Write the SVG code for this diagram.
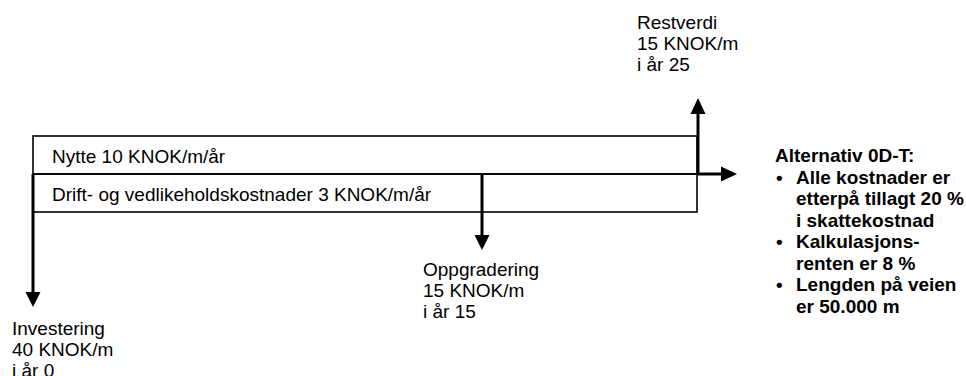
<svg xmlns="http://www.w3.org/2000/svg" width="966" height="376" viewBox="0 0 966 376">
<style>
  text { font-family: "Liberation Sans", Arial, sans-serif; font-size: 19px; fill: #000; }
  .b { font-weight: bold; }
  .box { fill: none; stroke: #000; stroke-width: 1.6; }
  .arr { stroke: #000; stroke-width: 3; fill: none; }
  .head { fill: #000; stroke: none; }
</style>
<rect width="966" height="376" fill="#fff"/>
<g id="nytte">
  <rect class="box" x="33" y="136" width="664" height="38"/>
  <text x="52" y="163">Nytte 10 KNOK/m/år</text>
</g>
<g id="drift">
  <rect class="box" x="33" y="174" width="664" height="38"/>
  <text x="52" y="200.5">Drift- og vedlikeholdskostnader 3 KNOK/m/år</text>
</g>
<g id="connectors">
  <line class="arr" x1="33" y1="174" x2="33" y2="293"/>
  <polygon class="head" points="25.5,292 40.5,292 33,307"/>
  <line class="arr" x1="482" y1="174" x2="482" y2="236"/>
  <polygon class="head" points="474.5,235 489.5,235 482,250"/>
  <line class="arr" x1="698" y1="174" x2="698" y2="113"/>
  <polygon class="head" points="690.5,114 705.5,114 698,98"/>
  <line class="arr" x1="697" y1="174" x2="722" y2="174"/>
  <polygon class="head" points="721,166.5 721,181.5 737,174"/>
</g>
<g id="investering">
  <text x="12" y="335">Investering</text>
  <text x="12" y="356">40 KNOK/m</text>
  <text x="12" y="377">i år 0</text>
</g>
<g id="oppgradering">
  <text x="423" y="276">Oppgradering</text>
  <text x="423" y="297">15 KNOK/m</text>
  <text x="423" y="318">i år 15</text>
</g>
<g id="restverdi">
  <text x="637" y="29">Restverdi</text>
  <text x="637" y="50">15 KNOK/m</text>
  <text x="637" y="71">i år 25</text>
</g>
<g id="alternativ">
  <text class="b" x="775" y="162">Alternativ 0D-T:</text>
  <text class="b" x="776" y="183.5">•</text>
  <text class="b" x="796" y="183.5">Alle kostnader er</text>
  <text class="b" x="796" y="205">etterpå tillagt 20 %</text>
  <text class="b" x="796" y="226.5">i skattekostnad</text>
  <text class="b" x="776" y="248">•</text>
  <text class="b" x="796" y="248">Kalkulasjons-</text>
  <text class="b" x="796" y="269.5">renten er 8 %</text>
  <text class="b" x="776" y="291">•</text>
  <text class="b" x="796" y="291">Lengden på veien</text>
  <text class="b" x="796" y="312.5">er 50.000 m</text>
</g>
</svg>
